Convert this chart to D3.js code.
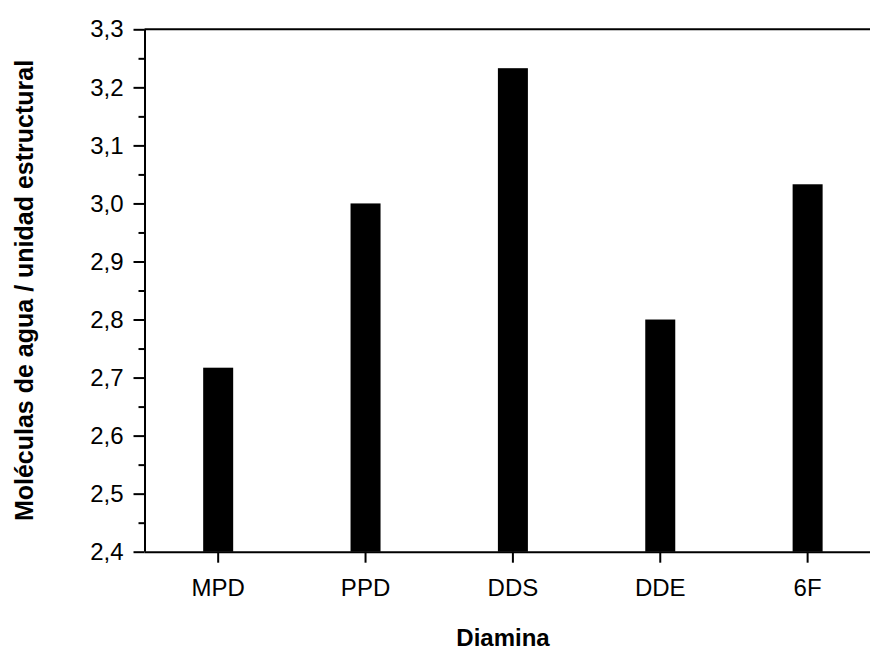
<!DOCTYPE html>
<html><head><meta charset="utf-8">
<script src="https://cdn.jsdelivr.net/npm/d3@7"></script>
<style>body{margin:0;background:#fff}svg{display:block}text{font-family:"Liberation Sans",Arial,sans-serif}</style>
</head><body>
<svg id="c" width="870" height="653"></svg>
<script>
const categories = ["MPD","PPD","DDS","DDE","6F"];
const values = [2.717, 3.0, 3.233, 2.8, 3.033];
const majorTicks = [2.4,2.5,2.6,2.7,2.8,2.9,3.0,3.1,3.2,3.3];
const minorTicks = [2.45,2.55,2.65,2.75,2.85,2.95,3.05,3.15,3.25];
const xTitle = "Diamina";
const yTitle = "Moléculas de agua / unidad estructural";

const svg = d3.select("#c");
const L = 144.5, R = 881.3, T = 29.3, B = 551.7;
const x = d3.scaleBand().domain(categories).range([L, R]).padding(0);
const y = d3.scaleLinear().domain([2.4, 3.3]).range([B, T]);
const barW = 30;

svg.append("g").selectAll("rect").data(values).join("rect")
  .attr("x", (d,i) => x(categories[i]) + x.bandwidth()/2 - barW/2)
  .attr("y", d => y(d))
  .attr("width", barW)
  .attr("height", d => B - y(d))
  .attr("fill", "#000");

svg.append("line").attr("x1", L).attr("x2", 870).attr("y1", T).attr("y2", T)
  .attr("stroke", "#000").attr("stroke-width", 2);

const fmt = d => d3.format(".1f")(d).replace(".", ",");
const yAxis = svg.append("g").attr("transform", `translate(${L},0)`)
  .call(d3.axisLeft(y).tickValues(majorTicks).tickFormat(fmt).tickSize(11).tickPadding(10));
svg.append("g").attr("transform", `translate(${L},0)`)
  .call(d3.axisLeft(y).tickValues(minorTicks).tickFormat("").tickSize(6))
  .select(".domain").remove();
const xAxis = svg.append("g").attr("transform", `translate(0,${B})`)
  .call(d3.axisBottom(x).tickSize(11).tickPadding(16));

svg.selectAll(".domain").attr("stroke-width", 2);
svg.selectAll(".tick line").attr("stroke-width", 2);
xAxis.select(".domain").attr("d", `M${L},0.5H870`);
yAxis.select(".domain").attr("d", `M0.5,${B}V${T}`);
svg.selectAll(".tick text").attr("font-size", 24).attr("font-family", '"Liberation Sans",Arial,sans-serif').attr("fill","#000");

svg.append("text").attr("x", 503).attr("y", 646).attr("text-anchor", "middle")
  .attr("font-size", 24).attr("font-weight", "bold").text(xTitle);
svg.append("text").attr("transform", `translate(33,${(T+B)/2}) rotate(-90)`)
  .attr("text-anchor", "middle").attr("font-size", 25).attr("font-weight", "bold").text(yTitle);
</script>
</body></html>
